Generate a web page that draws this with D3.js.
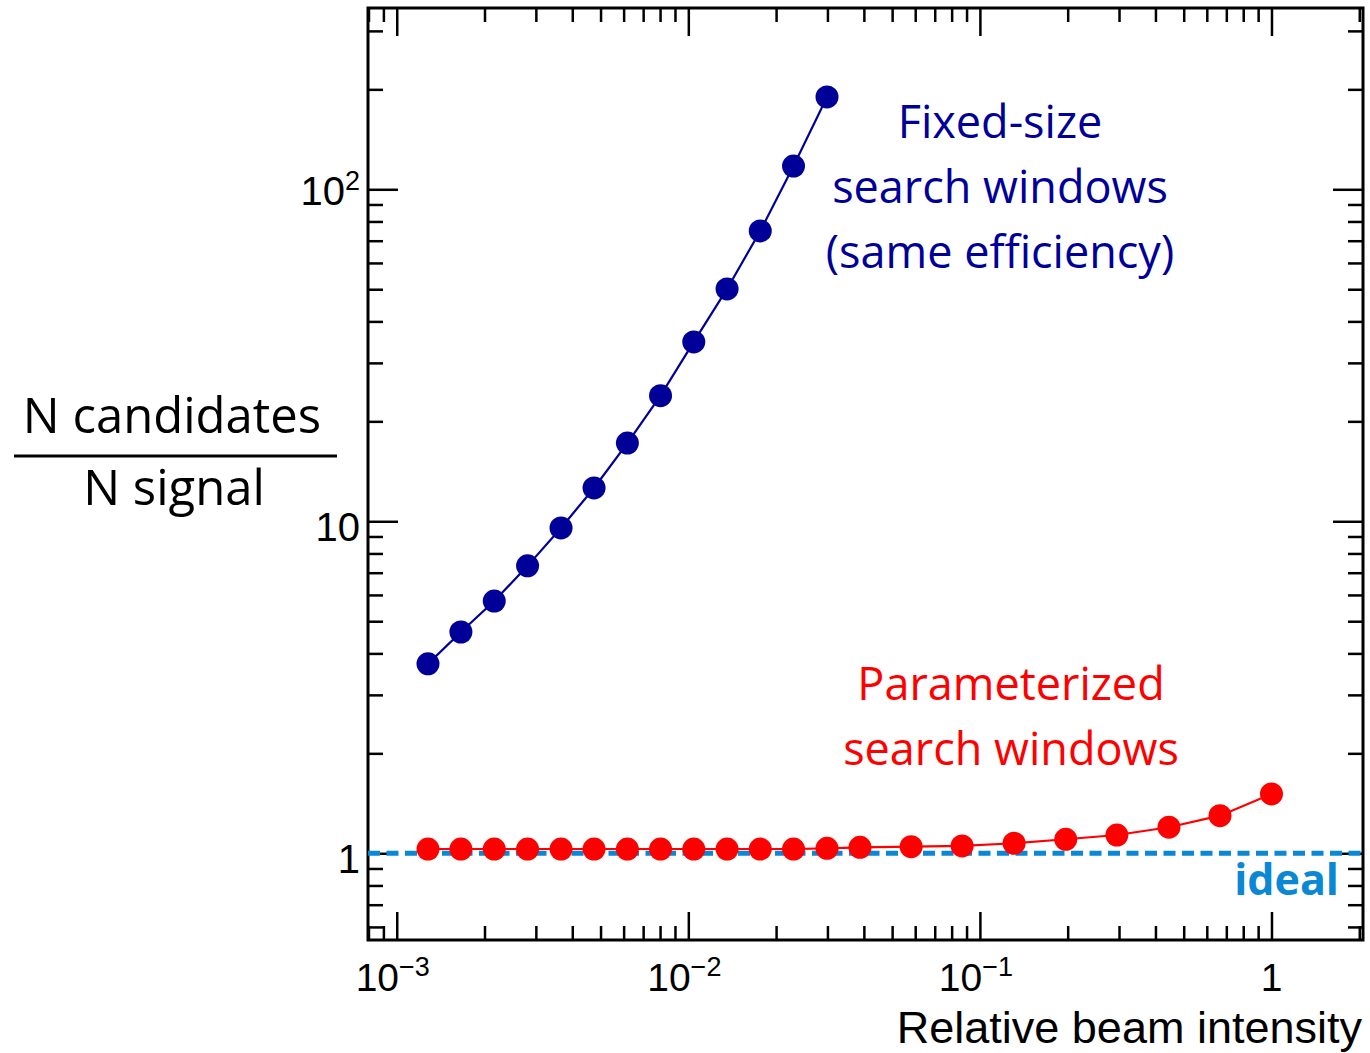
<!DOCTYPE html>
<html>
<head>
<meta charset="utf-8">
<script src="https://cdn.jsdelivr.net/npm/d3@7"></script>
<style>
  body { margin: 0; background: #fff; }
  svg { display: block; }
  .tick line { stroke: #000; stroke-width: 2.5px; }
  .domain { display: none; }
</style>
</head>
<body>
<div id="chart"></div>
<script>
// beam intensity values (relative)
const fixedIntensity = [0.00128, 0.00166, 0.00216, 0.00281, 0.00366, 0.00475, 0.00618,
    0.00803, 0.01044, 0.01358, 0.01765, 0.02295, 0.0299];
const fixedRatio = [3.72, 4.64, 5.75, 7.34, 9.55, 12.6, 17.2, 23.9, 34.7, 50.1, 74.9, 117.5, 189.7];

const paramIntensity = [0.00128, 0.00166, 0.00216, 0.00281, 0.00366, 0.00475, 0.00618,
    0.00803, 0.01044, 0.01358, 0.01765, 0.02295, 0.0299, 0.0388, 0.0581, 0.0869,
    0.131, 0.197, 0.295, 0.445, 0.666, 1.0];
const paramRatio = [1.03, 1.03, 1.03, 1.03, 1.03, 1.03, 1.03, 1.03, 1.03, 1.03, 1.03, 1.03,
    1.035, 1.042, 1.047, 1.052, 1.072, 1.102, 1.135, 1.198, 1.298, 1.509];

const idealRatio = 1;

const xMajor = [1e-3, 1e-2, 1e-1, 1];
const xMajorLabels = [["10", "\u22123"], ["10", "\u22122"], ["10", "\u22121"], ["1", ""]];
const yMajor = [1, 10, 100];
const yMajorLabels = [["1", ""], ["10", ""], ["10", "2"]];

const fixedText = ["Fixed-size", "search windows", "(same efficiency)"];
const paramText = ["Parameterized", "search windows"];

const W = 1370, H = 1053;
const frame = {left: 368, right: 1363, top: 8, bottom: 940};

const svg = d3.select("#chart").append("svg")
    .attr("width", W)
    .attr("height", H);

const x = d3.scaleLog().domain([7.97e-4, 2.06]).range([frame.left, frame.right]);
const y = d3.scaleLog().domain([0.548, 351.6]).range([frame.bottom, frame.top]);

// minor ticks 2..9 for each decade in range
function minorTicks(scale) {
    let [a, b] = scale.domain();
    let out = [];
    for (let e = Math.floor(Math.log10(a)); e <= Math.ceil(Math.log10(b)); e++) {
        for (let m = 2; m <= 9; m++) {
            let v = m * Math.pow(10, e);
            if (v >= a && v <= b) out.push(v);
        }
    }
    return out;
}

// axes, ticks pointing inwards on all four sides
svg.append("g").attr("transform", `translate(0,${frame.bottom})`)
    .call(d3.axisBottom(x).tickValues(xMajor).tickSize(-28).tickFormat(""));
svg.append("g").attr("transform", `translate(0,${frame.bottom})`)
    .call(d3.axisBottom(x).tickValues(minorTicks(x)).tickSize(-14).tickFormat(""));
svg.append("g").attr("transform", `translate(0,${frame.top})`)
    .call(d3.axisTop(x).tickValues(xMajor).tickSize(-28).tickFormat(""));
svg.append("g").attr("transform", `translate(0,${frame.top})`)
    .call(d3.axisTop(x).tickValues(minorTicks(x)).tickSize(-14).tickFormat(""));

svg.append("g").attr("transform", `translate(${frame.left},0)`)
    .call(d3.axisLeft(y).tickValues(yMajor).tickSize(-30).tickFormat(""));
svg.append("g").attr("transform", `translate(${frame.left},0)`)
    .call(d3.axisLeft(y).tickValues(minorTicks(y)).tickSize(-15).tickFormat(""));
svg.append("g").attr("transform", `translate(${frame.right},0)`)
    .call(d3.axisRight(y).tickValues(yMajor).tickSize(-30).tickFormat(""));
svg.append("g").attr("transform", `translate(${frame.right},0)`)
    .call(d3.axisRight(y).tickValues(minorTicks(y)).tickSize(-15).tickFormat(""));

svg.append("rect")
    .attr("x", frame.left).attr("y", frame.top)
    .attr("width", frame.right - frame.left).attr("height", frame.bottom - frame.top)
    .attr("fill", "none")
    .attr("stroke", "#000")
    .attr("stroke-width", 3);

// tick labels
const tickFont = "'Liberation Sans', Arial, sans-serif";
xMajor.forEach((v, i) => {
    let t = svg.append("text")
        .attr("x", x(v) - (xMajorLabels[i][1] ? 4 : 0))
        .attr("y", 991)
        .attr("text-anchor", "middle")
        .style("font-family", tickFont)
        .style("font-size", "39px");
    t.append("tspan").text(xMajorLabels[i][0]);
    if (xMajorLabels[i][1])
        t.append("tspan").attr("dy", -15).style("font-size", "27px").text(xMajorLabels[i][1]);
});
yMajor.forEach((v, i) => {
    let t = svg.append("text")
        .attr("x", 360)
        .attr("y", y(v) + (i == 2 ? 16 : 20))
        .attr("text-anchor", "end")
        .style("font-family", tickFont)
        .style("font-size", "40px");
    t.append("tspan").text(yMajorLabels[i][0]);
    if (yMajorLabels[i][1])
        t.append("tspan").attr("dy", -15).style("font-size", "27px").text(yMajorLabels[i][1]);
});

// axis titles
svg.append("text")
    .attr("x", 1362).attr("y", 1043)
    .attr("text-anchor", "end")
    .style("font-family", tickFont)
    .style("font-size", "45px")
    .text("Relative beam intensity");

const labelFont = "'Open Sans', 'Noto Sans', sans-serif";
svg.append("text")
    .attr("x", 172).attr("y", 433)
    .attr("text-anchor", "middle")
    .style("font-family", labelFont)
    .style("font-size", "49px")
    .text("N candidates");
svg.append("line")
    .attr("x1", 14).attr("x2", 337)
    .attr("y1", 456).attr("y2", 456)
    .attr("stroke", "#000").attr("stroke-width", 3);
svg.append("text")
    .attr("x", 174).attr("y", 505)
    .attr("text-anchor", "middle")
    .style("font-family", labelFont)
    .style("font-size", "49px")
    .text("N signal");

// ideal line
svg.append("line")
    .attr("x1", frame.left).attr("x2", frame.right)
    .attr("y1", y(idealRatio)).attr("y2", y(idealRatio))
    .attr("stroke", "#0a88d4")
    .attr("stroke-width", 5)
    .attr("stroke-dasharray", "12,6.5");

svg.append("text")
    .attr("x", 1339).attr("y", 895)
    .attr("text-anchor", "end")
    .style("font-family", labelFont)
    .style("font-weight", "bold")
    .style("font-size", "43px")
    .attr("fill", "#0a88d4")
    .text("ideal");

// series
function drawSeries(xs, ys, color) {
    let pts = xs.map((v, i) => [v, ys[i]]);
    let line = d3.line().x(d => x(d[0])).y(d => y(d[1]));
    svg.append("path")
        .datum(pts)
        .attr("d", line)
        .attr("fill", "none")
        .attr("stroke", color)
        .attr("stroke-width", 2.2);
    svg.append("g")
        .selectAll("circle")
        .data(pts)
        .join("circle")
        .attr("cx", d => x(d[0]))
        .attr("cy", d => y(d[1]))
        .attr("r", 11.5)
        .attr("fill", color);
}

drawSeries(paramIntensity, paramRatio, "#ff0000");
drawSeries(fixedIntensity, fixedRatio, "#000099");

// annotations
svg.append("g")
    .selectAll("text")
    .data(fixedText)
    .join("text")
    .attr("x", 1000)
    .attr("y", (d, i) => 138 + i * 65)
    .attr("text-anchor", "middle")
    .style("font-family", labelFont)
    .style("font-size", "45px")
    .attr("fill", "#000099")
    .text(d => d);

svg.append("g")
    .selectAll("text")
    .data(paramText)
    .join("text")
    .attr("x", 1011)
    .attr("y", (d, i) => 700 + i * 65)
    .attr("text-anchor", "middle")
    .style("font-family", labelFont)
    .style("font-size", "45px")
    .attr("fill", "#ff0000")
    .text(d => d);
</script>
</body>
</html>
